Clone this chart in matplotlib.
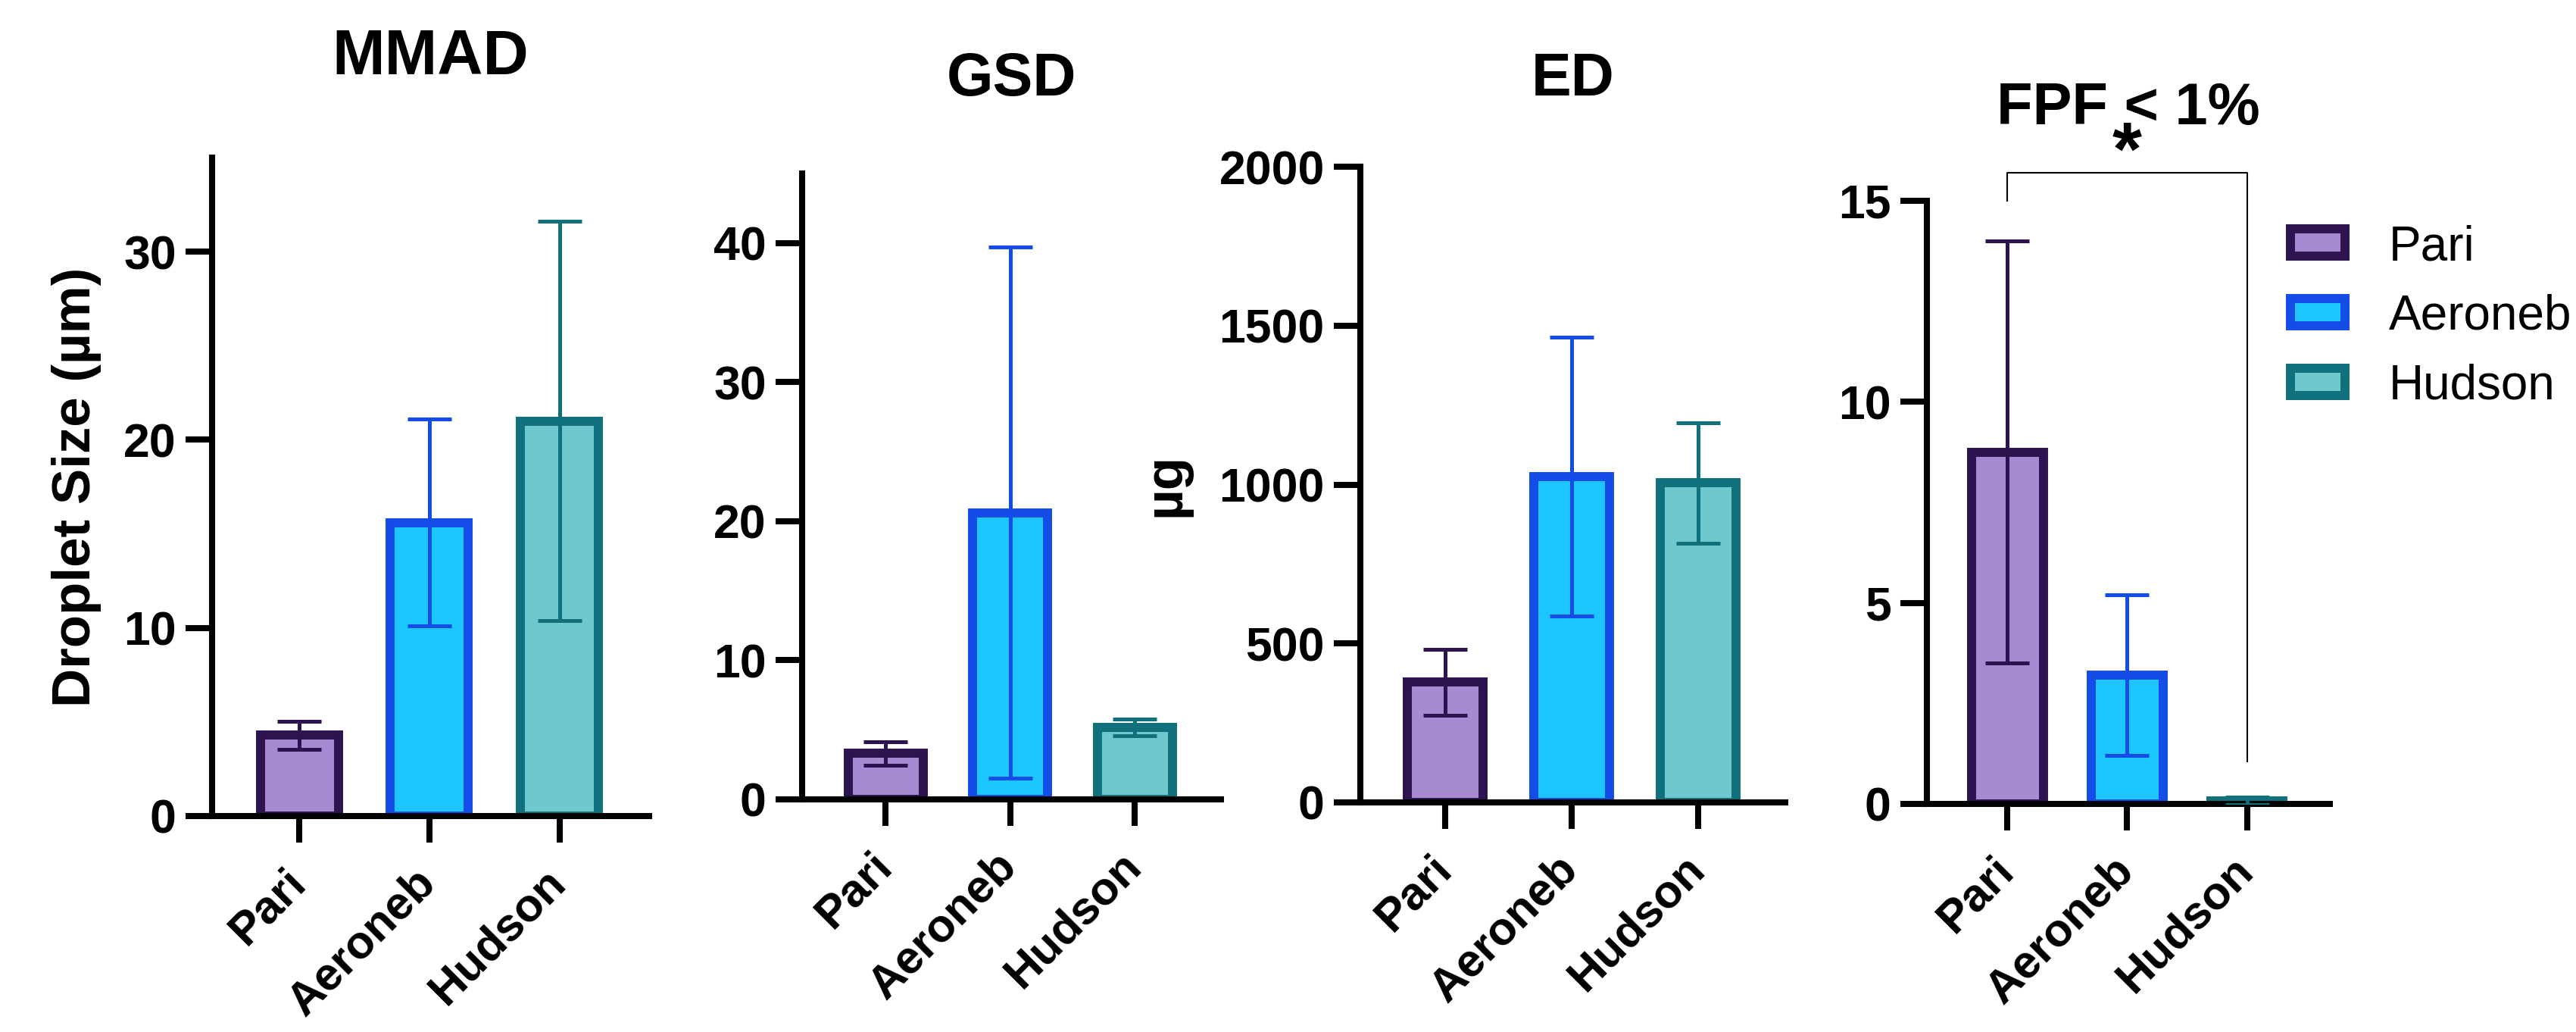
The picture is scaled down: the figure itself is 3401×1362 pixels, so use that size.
import numpy as np
import matplotlib
matplotlib.use('Agg')
import matplotlib.pyplot as plt
from matplotlib.patches import Patch

plt.rcParams['font.family'] = ['Liberation Sans', 'DejaVu Sans']

# groups and colours
devices = ['Pari', 'Aeroneb', 'Hudson']
fill_colors = ['#A68BD3', '#1DC5FE', '#70C8CF']
edge_colors = ['#2D1350', '#134CE6', '#10707B']

# values (mean, SD)
mmad_mean = [4.3, 15.6, 21.0]
mmad_sd = [0.75, 5.5, 10.6]
gsd_mean = [3.3, 20.6, 5.2]
gsd_sd = [0.85, 19.1, 0.6]
ed_mean = [378, 1025, 1005]
ed_sd = [104, 438, 189]
fpf_mean = [8.75, 3.2, 0.08]
fpf_sd = [5.25, 2.0, 0.09]

# significance bracket on FPF (Pari vs Hudson)
sig_pair = (0, 2)
sig_y = 15.7
sig_drops = (15.0, 1.05)
sig_text = '*'

W, H = 3401, 1362


def px_rect(left, right, bottom, top):
    """axes rect from pixel edges"""
    return [left / W, 1 - bottom / H, (right - left) / W, (bottom - top) / H]


panels = [
    dict(title='MMAD', mean=mmad_mean, sd=mmad_sd, ymax=35, step=10,
         ylabel='Droplet Size (µm)', rect=px_rect(280, 857, 1077, 208),
         tsize=60, toff=79, lab_x=-0.253),
    dict(title='GSD', mean=gsd_mean, sd=gsd_sd, ymax=45, step=10,
         ylabel=None, rect=px_rect(1059, 1612, 1055, 229),
         tsize=57, toff=74, lab_x=None),
    dict(title='ED', mean=ed_mean, sd=ed_sd, ymax=2000, step=500,
         ylabel='µg', rect=px_rect(1796, 2357, 1059, 220),
         tsize=57, toff=68, lab_x=-0.399),
    dict(title='FPF < 1%', mean=fpf_mean, sd=fpf_sd, ymax=15, step=5,
         ylabel=None, rect=px_rect(2544, 3076, 1061, 265),
         tsize=56, toff=73, lab_x=None),
]

fig = plt.figure(figsize=(W / 100, H / 100), dpi=100)

edge_lw = 8.6
axis_lw = 5.8
err_lw = 3.6

axes = []
for p in panels:
    ax = fig.add_axes(p['rect'])
    x = np.arange(len(devices))
    ax.bar(x, p['mean'], width=0.6, color=fill_colors, edgecolor=edge_colors,
           linewidth=edge_lw, zorder=1)
    for i in range(len(devices)):
        ax.errorbar(x[i], p['mean'][i], yerr=p['sd'][i], color=edge_colors[i],
                    elinewidth=err_lw, capsize=21, capthick=err_lw, zorder=3)

    ax.set_xlim(-0.67, 2.69)
    ax.set_ylim(0, p['ymax'])
    ax.set_yticks(np.arange(0, p['ymax'] + 1e-9, p['step']))
    ax.set_xticks(x)
    ax.set_xticklabels(devices, rotation=45, ha='right', va='center',
                       rotation_mode='anchor', fontweight='bold', fontsize=44)
    for lbl in ax.get_yticklabels():
        lbl.set_fontweight('bold')
        lbl.set_fontsize(45)

    for s in ['top', 'right']:
        ax.spines[s].set_visible(False)
    for s in ['left', 'bottom']:
        ax.spines[s].set_linewidth(axis_lw)
        ax.spines[s].set_capstyle('projecting')
    ax.tick_params(axis='both', width=axis_lw, length=25)
    ax.tick_params(axis='y', pad=9)
    ax.tick_params(axis='x', pad=32)

    if p['ylabel']:
        ax.set_ylabel(p['ylabel'], fontsize=51, fontweight='bold')
        ax.yaxis.set_label_coords(p['lab_x'], 0.5)

    ax.annotate(p['title'], xy=(0.5, 1), xycoords='axes fraction',
                xytext=(0, p['toff']), textcoords='offset points',
                ha='center', va='baseline', fontsize=p['tsize'],
                fontweight='bold', annotation_clip=False)
    axes.append(ax)

# significance bracket
ax4 = axes[3]
a, b = sig_pair
ax4.plot([a, a, b, b], [sig_drops[0], sig_y, sig_y, sig_drops[1]],
         color='black', lw=1.5, clip_on=False, zorder=4)
ax4.annotate(sig_text, xy=((a + b) / 2, sig_y), xytext=(0, -2),
             textcoords='offset points', ha='center', va='baseline',
             fontsize=72, fontweight='bold', annotation_clip=False)

# legend
handles = [Patch(facecolor=fc, edgecolor=ec, linewidth=edge_lw, label=d)
           for d, fc, ec in zip(devices, fill_colors, edge_colors)]
fig.legend(handles=handles, loc='upper left',
           bbox_to_anchor=(3024 / W, 1 - 296 / H), frameon=False,
           fontsize=46, handlelength=1.13, handleheight=0.49,
           handletextpad=0.9, labelspacing=0.5, borderpad=0,
           borderaxespad=0)

fig.savefig('out.png', dpi=100)
